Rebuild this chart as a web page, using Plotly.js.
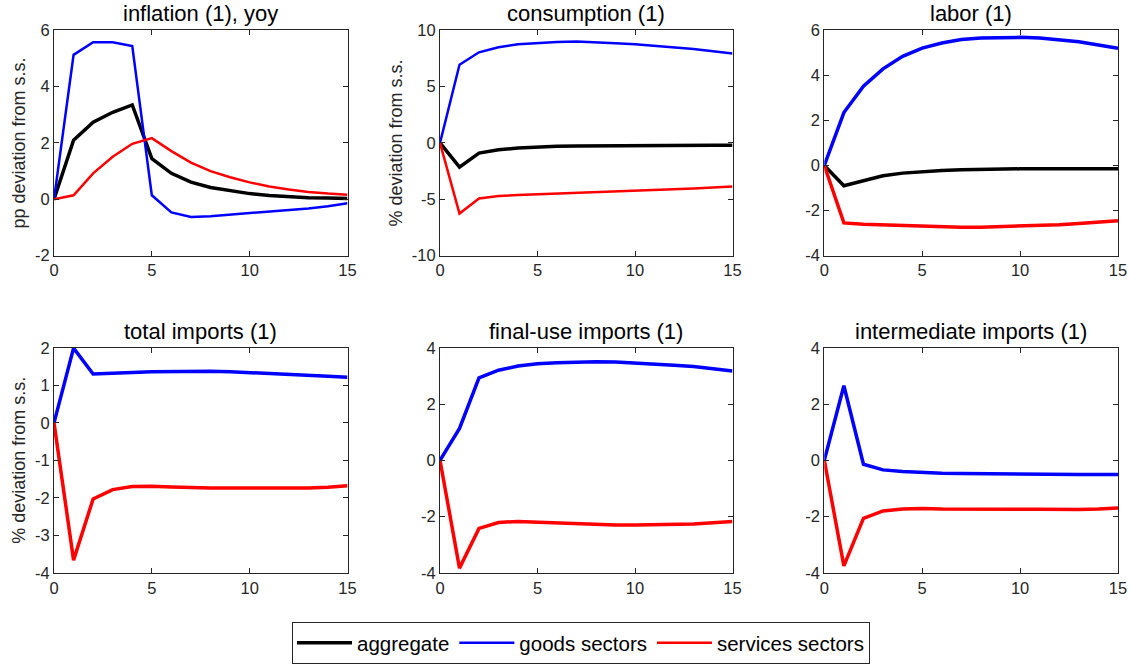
<!DOCTYPE html>
<html>
<head>
<meta charset="utf-8">
<script src="https://cdn.plot.ly/plotly-3.0.1.min.js"></script>
<style>html,body{margin:0;padding:0;background:#fff;}#chart{width:1130px;height:664px;}</style>
</head>
<body>
<div id="chart"></div>
<script>
// periods
const periods = [0,1,2,3,4,5,6,7,8,9,10,11,12,13,14,15];
const seriesNames = ["aggregate", "goods sectors", "services sectors"];
const panelTitles = ["inflation (1), yoy", "consumption (1)", "labor (1)", "total imports (1)", "final-use imports (1)", "intermediate imports (1)"];
const yTitles = ["pp deviation from s.s.", "% deviation from s.s.", "", "% deviation from s.s.", "", ""];

// inflation
const inflAgg   = [0,2.10,2.74,3.09,3.35,1.44,0.92,0.61,0.42,0.30,0.20,0.13,0.08,0.05,0.04,0.03];
const inflGoods = [0,5.13,5.58,5.58,5.44,0.14,-0.47,-0.63,-0.60,-0.55,-0.50,-0.45,-0.40,-0.33,-0.25,-0.14];
const inflServ  = [0,0.14,0.92,1.51,1.97,2.17,1.71,1.30,1.00,0.78,0.60,0.45,0.35,0.26,0.20,0.16];
// consumption
const consAgg   = [0,-2.15,-0.90,-0.60,-0.45,-0.36,-0.30,-0.27,-0.25,-0.23,-0.22,-0.21,-0.20,-0.20,-0.20,-0.20];
const consGoods = [0,6.95,8.05,8.50,8.77,8.90,8.97,9.00,8.95,8.86,8.76,8.64,8.50,8.34,8.15,7.95];
const consServ  = [0,-6.27,-4.93,-4.72,-4.63,-4.57,-4.50,-4.45,-4.40,-4.33,-4.27,-4.20,-4.13,-4.05,-3.96,-3.87];
// labor
const labAgg    = [0,-0.90,-0.68,-0.46,-0.34,-0.27,-0.22,-0.19,-0.17,-0.16,-0.15,-0.15,-0.15,-0.15,-0.15,-0.15];
const labGoods  = [0,2.35,3.52,4.29,4.85,5.21,5.44,5.59,5.66,5.69,5.69,5.66,5.59,5.49,5.35,5.21];
const labServ   = [0,-2.55,-2.61,-2.64,-2.68,-2.71,-2.73,-2.74,-2.74,-2.72,-2.70,-2.67,-2.63,-2.58,-2.52,-2.46];
// total imports
const totGoods  = [0,1.99,1.30,1.31,1.34,1.36,1.37,1.37,1.37,1.36,1.34,1.32,1.29,1.27,1.24,1.21];
const totServ   = [0,-3.66,-2.03,-1.78,-1.70,-1.69,-1.71,-1.73,-1.74,-1.74,-1.74,-1.74,-1.75,-1.74,-1.72,-1.68];
// final-use imports
const finGoods  = [0,1.13,2.93,3.20,3.35,3.43,3.47,3.50,3.50,3.49,3.46,3.43,3.38,3.33,3.26,3.17];
const finServ   = [0,-3.83,-2.42,-2.21,-2.17,-2.20,-2.23,-2.27,-2.29,-2.30,-2.30,-2.29,-2.28,-2.26,-2.22,-2.17];
// intermediate imports
const intGoods  = [0,2.65,-0.14,-0.34,-0.40,-0.44,-0.46,-0.47,-0.48,-0.49,-0.50,-0.50,-0.50,-0.50,-0.50,-0.50];
const intServ   = [0,-3.75,-2.06,-1.80,-1.73,-1.71,-1.73,-1.74,-1.74,-1.74,-1.74,-1.74,-1.76,-1.75,-1.73,-1.69];

const yTicks = [[-2,0,2,4,6],[-10,-5,0,5,10],[-4,-2,0,2,4,6],[-4,-3,-2,-1,0,1,2],[-4,-2,0,2,4],[-4,-2,0,2,4]];
const xTicks = [0,5,10,15];

const colors = ["#000000", "#0000ff", "#ff0000"];
const panels = [
  [inflAgg, inflGoods, inflServ],
  [consAgg, consGoods, consServ],
  [labAgg, labGoods, labServ],
  [null, totGoods, totServ],
  [null, finGoods, finServ],
  [null, intGoods, intServ]
];
const widths = [[3.5,2.5,2.5],[3.5,2.5,2.5],[3.5,3.5,3.5],[3.5,3.5,3.5],[3.5,3.5,3.5],[3.5,3.5,3.5]];

const W = 1130, H = 664;
const xDom = [[54,347.5],[440,732.5],[824.3,1118]];
const yDom = [[30.5,256.7],[349.3,575.5]];
const FONT = "Liberation Sans, Arial, Helvetica, sans-serif";

const traces = [];
const layout = {
  width: W, height: H,
  margin: {l:0, r:0, t:0, b:0},
  paper_bgcolor: "#fff", plot_bgcolor: "#fff",
  font: {family: FONT, color: "#262626", size: 16.5},
  showlegend: true,
  legend: {
    orientation: "h", x: 581/W, xanchor: "center", y: 1 - 646/H, yanchor: "middle",
    bordercolor: "#262626", borderwidth: 1, bgcolor: "#fff",
    font: {size: 20.5, color: "#000", family: FONT},
    itemwidth: 55, tracegroupgap: 0
  },
  annotations: []
};

for (let p = 0; p < 6; p++) {
  const r = Math.floor(p / 3), c = p % 3;
  const idx = p + 1;
  const xa = "x" + (idx === 1 ? "" : idx), ya = "y" + (idx === 1 ? "" : idx);
  const xk = "xaxis" + (idx === 1 ? "" : idx), yk = "yaxis" + (idx === 1 ? "" : idx);
  for (let s = 0; s < 3; s++) {
    const ys = panels[p][s];
    if (!ys) continue;
    traces.push({
      x: periods, y: ys, type: "scatter", mode: "lines",
      line: {color: colors[s], width: widths[p][s]},
      name: seriesNames[s], legendgroup: seriesNames[s],
      showlegend: p === 0, xaxis: xa, yaxis: ya, hoverinfo: "skip"
    });
  }
  const yt = yTicks[p];
  layout[xk] = {
    domain: [xDom[c][0]/W, xDom[c][1]/W], anchor: ya,
    range: [0, 15], tickvals: xTicks, ticktext: xTicks.map(String),
    ticks: "inside", ticklen: 5, tickcolor: "#262626", mirror: "ticks",
    showline: true, linecolor: "#262626", linewidth: 1, showgrid: false, zeroline: false,
    tickfont: {size: 16.5, color: "#262626"}
  };
  layout[yk] = {
    domain: [1 - yDom[r][1]/H, 1 - yDom[r][0]/H], anchor: xa,
    range: [yt[0], yt[yt.length-1]], tickvals: yt, ticktext: yt.map(v => String(v)),
    ticks: "inside", ticklen: 5, tickcolor: "#262626", mirror: "ticks",
    showline: true, linecolor: "#262626", linewidth: 1, showgrid: false, zeroline: false,
    tickfont: {size: 16.5, color: "#262626"},
    title: yTitles[p] ? {text: yTitles[p], font: {size: 18, color: "#262626"}, standoff: 4} : {text: ""}
  };
  layout.annotations.push({
    xref: "paper", yref: "paper",
    x: (xDom[c][0] + xDom[c][1]) / 2 / W, y: 1 - (yDom[r][0] - 2) / H,
    xanchor: "center", yanchor: "bottom", showarrow: false,
    text: panelTitles[p], font: {size: 22, color: "#000"}
  });
}

Plotly.newPlot("chart", traces, layout, {displayModeBar: false, staticPlot: true});
</script>
</body>
</html>
